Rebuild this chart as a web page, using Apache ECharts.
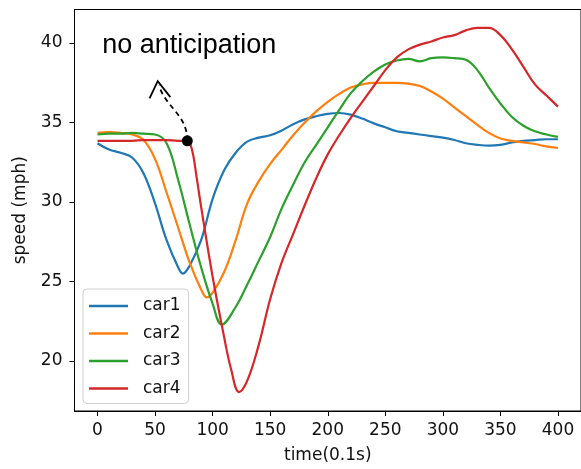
<!DOCTYPE html>
<html>
<head>
<meta charset="utf-8">
<script src="https://cdn.jsdelivr.net/npm/echarts@6/dist/echarts.min.js"></script>
<style>
html,body{margin:0;padding:0;background:#fff;}
#c{width:581px;height:469px;}
</style>
</head>
<body>
<div id="c"></div>
<script>
const seriesNames = ['car1', 'car2', 'car3', 'car4'];
const seriesColors = ['#1f77b4', '#ff7f0e', '#2ca02c', '#d62728'];

const car1Time  = [0,10,20,30,40,50,60,70,74,80,90,100,110,120,130,140,150,160,170,180,190,200,210,220,230,240,250,260,270,280,290,300,310,320,330,340,350,360,370,380,390,400];
const car1Speed = [33.7,33.3,33.1,32.8,31.8,29.9,27.6,25.9,25.5,26.0,27.6,30.2,32.0,33.1,33.8,34.05,34.2,34.5,34.9,35.2,35.4,35.55,35.6,35.5,35.25,34.95,34.7,34.45,34.35,34.25,34.15,34.05,33.9,33.7,33.6,33.55,33.6,33.75,33.85,33.9,33.95,33.95];

const car2Time  = [0,10,20,30,40,50,60,70,80,90,95,100,110,120,130,140,150,160,170,180,190,200,210,220,230,240,250,260,270,280,290,300,310,320,330,340,350,360,370,380,390,400];
const car2Speed = [34.35,34.4,34.35,34.25,33.9,32.7,30.6,28.4,26.2,24.5,24.0,24.3,25.6,27.6,29.9,31.3,32.4,33.3,34.2,35.0,35.7,36.3,36.8,37.2,37.4,37.5,37.5,37.5,37.45,37.3,36.95,36.5,35.95,35.4,34.85,34.35,34.0,33.85,33.75,33.65,33.5,33.4];

const car3Time  = [0,10,20,30,40,50,60,70,80,90,100,108,120,130,140,150,160,170,180,190,200,210,220,230,240,250,260,270,280,290,300,310,320,330,340,350,360,370,380,390,400];
const car3Speed = [34.25,34.3,34.3,34.35,34.3,34.25,33.7,31.4,28.6,25.9,23.6,22.3,23.4,24.8,26.3,27.8,29.6,31.1,32.5,33.6,34.7,35.8,36.85,37.6,38.2,38.65,38.9,39.0,38.85,39.05,39.1,39.05,38.95,38.3,37.2,36.2,35.35,34.8,34.45,34.25,34.1];

const car4Time  = [0,10,20,30,40,50,60,70,78,82,86,90,100,110,116,123,130,140,150,160,170,180,190,200,210,220,230,240,250,260,270,280,290,300,310,320,330,340,350,360,370,380,390,400];
const car4Speed = [33.85,33.85,33.85,33.85,33.9,33.9,33.9,33.85,33.85,33.3,31.6,29.7,25.3,21.5,19.5,18.05,18.75,21.0,23.9,26.2,28.0,29.8,31.5,33.0,34.2,35.3,36.3,37.3,38.3,39.1,39.6,39.9,40.1,40.35,40.5,40.8,40.95,40.95,40.5,39.6,38.5,37.4,36.7,36.0];

const xTicks = [0, 50, 100, 150, 200, 250, 300, 350, 400];
const yTicks = [20, 25, 30, 35, 40];
const xLabel = 'time(0.1s)';
const yLabel = 'speed (mph)';

// annotation (data coordinates)
const annotationPoint = [78, 33.85];
const annotationText = 'no anticipation';
const annotationTextPos = [79.7, 39.82];
const annotationCurve = [[78, 35.52], [59.0, 35.96], [53.4, 37.33]];
const annotationArrowHead = [[45.2, 36.52], [52.3, 37.6], [63.3, 36.6]];

const times = [car1Time, car2Time, car3Time, car4Time];
const speeds = [car1Speed, car2Speed, car3Speed, car4Speed];

const FONT = 'DejaVu Sans';

const lineSeries = seriesNames.map((name, i) => ({
  name: name,
  type: 'line',
  data: times[i].map((t, k) => [t, speeds[i][k]]),
  symbol: 'none',
  smooth: 0.4,
  lineStyle: { width: 2.2, color: seriesColors[i] },
  itemStyle: { color: seriesColors[i] },
  z: 2
}));

const option = {
  animation: false,
  backgroundColor: '#ffffff',
  textStyle: { fontFamily: FONT },
  grid: {
    left: 74.5, top: 9.5, width: 509.5, height: 404,
    show: true, borderColor: '#000', borderWidth: 1, backgroundColor: 'transparent'
  },
  xAxis: {
    type: 'value', min: -20, max: 420,
    name: xLabel, nameLocation: 'middle', nameGap: 36,
    nameTextStyle: { fontSize: 17, color: '#111', fontFamily: FONT },
    axisLine: { show: true, onZero: false, lineStyle: { color: '#000', width: 1 } },
    axisTick: { show: true, customValues: xTicks, length: 5, lineStyle: { color: '#000', width: 1 } },
    axisLabel: { customValues: xTicks, fontSize: 17, color: '#111', fontFamily: FONT, margin: 11 },
    splitLine: { show: false }
  },
  yAxis: {
    type: 'value', min: 16.86, max: 42.11,
    name: yLabel, nameLocation: 'middle', nameGap: 45,
    nameTextStyle: { fontSize: 17, color: '#111', fontFamily: FONT },
    axisLine: { show: true, onZero: false, lineStyle: { color: '#000', width: 1 } },
    axisTick: { show: true, customValues: yTicks, length: 5, lineStyle: { color: '#000', width: 1 } },
    axisLabel: { customValues: yTicks, fontSize: 17, color: '#111', fontFamily: FONT, margin: 12 },
    splitLine: { show: false }
  },
  legend: {
    data: seriesNames.map(n => ({ name: n, icon: 'rect' })),
    orient: 'vertical',
    left: 83, top: 289,
    itemWidth: 39, itemHeight: 2.4, itemGap: 7.5,
    padding: [7, 8, 5, 6],
    backgroundColor: 'rgba(255,255,255,0.8)',
    borderColor: '#d0d0d0', borderWidth: 1, borderRadius: 4,
    textStyle: { fontSize: 17, color: '#111', fontFamily: FONT, lineHeight: 20, padding: [0, 0, 0, 10] }
  },
  series: lineSeries.concat([{
    name: 'annotation',
    type: 'scatter',
    data: [annotationPoint],
    symbolSize: 11,
    itemStyle: { color: '#000', opacity: 1 },
    z: 5
  }])
};

const chart = echarts.init(document.getElementById('c'), null, { renderer: 'canvas' });
chart.setOption(option);

const px = p => chart.convertToPixel({ gridIndex: 0 }, p);
const p0 = px(annotationPoint);
const c1 = px(annotationCurve[0]);
const c2 = px(annotationCurve[1]);
const c3 = px(annotationCurve[2]);
const tp = px(annotationTextPos);
chart.setOption({
  graphic: [
    {
      type: 'bezierCurve', z: 100,
      shape: { x1: p0[0], y1: p0[1], cpx1: c1[0], cpy1: c1[1], cpx2: c2[0], cpy2: c2[1], x2: c3[0], y2: c3[1] },
      style: { stroke: '#000', lineWidth: 1.8, lineDash: [5, 4], fill: null }
    },
    {
      type: 'polyline', z: 100,
      shape: { points: annotationArrowHead.map(px) },
      style: { stroke: '#000', lineWidth: 1.8, fill: null }
    },
    {
      type: 'text', z: 100, x: tp[0], y: tp[1],
      style: { text: annotationText, fontSize: 27, fontFamily: 'Liberation Sans', fill: '#000', align: 'center', verticalAlign: 'middle' }
    }
  ]
});
</script>
</body>
</html>
